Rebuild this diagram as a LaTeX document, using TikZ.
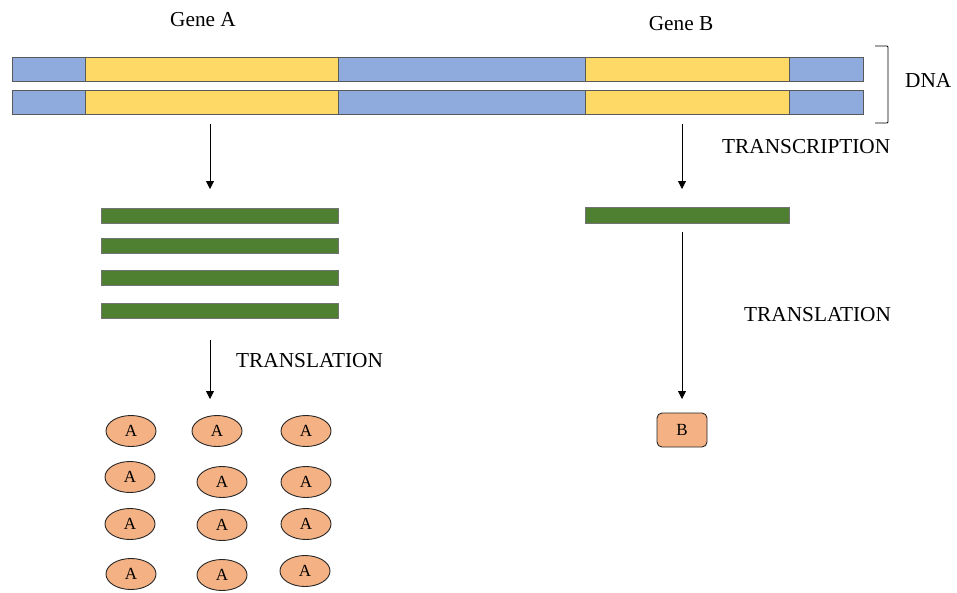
\documentclass[tikz,border=0pt]{standalone}
\usepackage{fontspec}
\setmainfont{Liberation Serif}
\usetikzlibrary{shapes.geometric,arrows.meta}
\definecolor{dnablue}{HTML}{8FAADC}
\definecolor{geneyel}{HTML}{FFD966}
\definecolor{mgreen}{HTML}{4F7F30}
\definecolor{porange}{HTML}{F4B183}
\begin{document}
\begin{tikzpicture}[x=1pt,y=-1pt,
  seg/.style={draw=black!65,line width=0.7pt,inner sep=0,anchor=north west,minimum height=24pt},
  mrna/.style={draw=black!55,line width=0.6pt,fill=mgreen,inner sep=0,anchor=north west,minimum height=15pt},
  prot/.style={ellipse,draw=black!85,line width=0.9pt,fill=porange,minimum width=50pt,minimum height=31pt,inner sep=0,font=\fontsize{17}{19}\selectfont},
  lbl/.style={font=\fontsize{21.3}{24}\selectfont,inner sep=0},
  arr/.style={line width=0.8pt,-{Triangle[length=8pt,width=8pt]}}]
\useasboundingbox (0,0) rectangle (957,592);
% DNA strands
\foreach \y/\n in {57/t,90/b}{
  \node[seg,fill=dnablue,minimum width=73pt] (\n1) at (12,\y) {};
  \node[seg,fill=geneyel,minimum width=253pt] (\n2) at (85,\y) {};
  \node[seg,fill=dnablue,minimum width=247pt] (\n3) at (338,\y) {};
  \node[seg,fill=geneyel,minimum width=204pt] (\n4) at (585,\y) {};
  \node[seg,fill=dnablue,minimum width=74pt] (\n5) at (789,\y) {};
}
% bracket
\coordinate (br1) at (875,46);
\coordinate (br2) at (888,46);
\coordinate (br3) at (888,123);
\coordinate (br4) at (875,123);
\draw[line width=0.8pt,rounded corners=1pt] (br1) -- (br2) -- (br3) -- (br4);
% labels
\node[lbl] (geneA) at (203,20) {Gene A};
\node[lbl] (geneB) at (681,24) {Gene B};
\node[lbl,anchor=west] (dna) at (905,80) {DNA};
\node[lbl,anchor=west] (transc) at (722,147) {TRANSCRIPTION};
\node[lbl,anchor=west] (translA) at (236,361) {TRANSLATION};
\node[lbl,anchor=west] (translB) at (744,315) {TRANSLATION};
% mRNA A
\node[mrna,minimum width=237pt] (ma1) at (101,208) {};
\node[mrna,minimum width=237pt] (ma2) at (101,238) {};
\node[mrna,minimum width=237pt] (ma3) at (101,270) {};
\node[mrna,minimum width=237pt] (ma4) at (101,303) {};
% mRNA B
\node[mrna,minimum width=204pt,minimum height=16pt] (mb) at (585,207) {};
% arrows
\coordinate (a1s) at (210,124);
\coordinate (a1e) at (210,189);
\draw[arr] (a1s) -- (a1e);
\coordinate (a2s) at (210,340);
\coordinate (a2e) at (210,399);
\draw[arr] (a2s) -- (a2e);
\coordinate (b1s) at (682,124);
\coordinate (b1e) at (682,189);
\draw[arr] (b1s) -- (b1e);
\coordinate (b2s) at (682,232);
\coordinate (b2e) at (682,399);
\draw[arr] (b2s) -- (b2e);
% protein B
\node[draw=black!85,line width=0.9pt,fill=porange,rounded corners=5pt,minimum width=50pt,minimum height=34pt,inner sep=0,font=\fontsize{17}{19}\selectfont] (pB) at (682,430) {B};
% proteins A
\node[prot] (pa11) at (131,431) {A};
\node[prot] (pa12) at (217,431) {A};
\node[prot] (pa13) at (306,431) {A};
\node[prot] (pa21) at (130,477) {A};
\node[prot] (pa22) at (222,482) {A};
\node[prot] (pa23) at (306,482) {A};
\node[prot] (pa31) at (130,524) {A};
\node[prot] (pa32) at (222,525) {A};
\node[prot] (pa33) at (306,524) {A};
\node[prot] (pa41) at (131,574) {A};
\node[prot] (pa42) at (222,575) {A};
\node[prot] (pa43) at (305,571) {A};
\end{tikzpicture}
\end{document}
